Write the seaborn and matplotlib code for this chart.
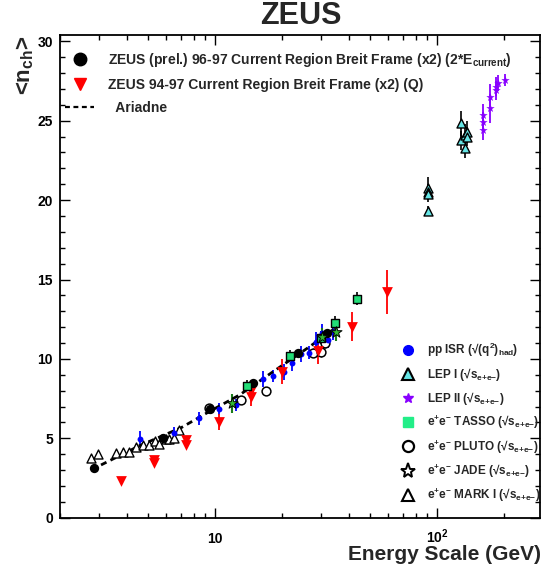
import numpy as np
import pandas as pd
import matplotlib
matplotlib.use("Agg")
import matplotlib.pyplot as plt
import seaborn as sns
from matplotlib.lines import Line2D
from matplotlib.ticker import FixedLocator, FixedFormatter, NullFormatter, LogLocator, MultipleLocator

# ---------------- data ----------------
zeus_prel_x = [2.86, 5.80, 9.52, 14.8, 23.6, 32.0]
zeus_prel_y = [3.11, 5.04, 6.85, 8.50, 10.35, 11.61]
zeus_prel_err = [0.08, 0.08, 0.1, 0.1, 0.12, 0.15]

zeus_q_x = [3.77, 5.29, 5.29, 7.40, 7.40, 10.35, 14.5, 14.5, 20.0, 29.0, 41.5, 59.3]
zeus_q_y = [2.31, 3.63, 3.42, 4.89, 4.58, 6.05, 8.0, 7.62, 9.2, 10.5, 12.03, 14.2]
zeus_q_err = [0.15, 0.15, 0.15, 0.2, 0.2, 0.5, 0.5, 0.6, 0.8, 0.85, 0.9, 1.4]

ariadne_x = [3.06, 4.56, 7.03, 9.1, 12.87, 18.2, 26.6, 35.2]
ariadne_y = [3.32, 4.53, 5.67, 6.57, 7.73, 9.19, 10.77, 12.0]

isr_x = [4.60, 6.55, 8.49, 10.45, 12.4, 16.4, 18.2, 20.5, 22.2, 24.4, 26.5, 28.5, 30.1, 32.2, 33.9]
isr_y = [4.93, 5.31, 6.26, 6.84, 7.1, 8.71, 8.92, 9.2, 9.72, 10.29, 10.39, 11.08, 11.61, 11.19, 11.71]
isr_err = [0.5, 0.4, 0.4, 0.4, 0.4, 0.5, 0.4, 0.5, 0.5, 0.5, 0.4, 0.6, 0.6, 0.5, 0.5]

lep1_x = [91.0, 91.0, 91.0, 91.0, 128.0, 128.0, 133.0, 133.0, 136.5, 136.5]
lep1_y = [20.74, 20.53, 20.4, 19.33, 24.83, 23.78, 24.1, 23.26, 24.3, 24.0]
lep1_err = [0.7, 0.5, 0.5, 0.3, 0.8, 0.6, 0.7, 0.6, 0.7, 0.6]

lep2_x = [161.0, 161.0, 161.0, 172.6, 172.6, 183.6, 183.6, 188.2, 202.0]
lep2_y = [25.36, 24.94, 24.41, 26.51, 25.78, 26.93, 27.14, 27.36, 27.56]
lep2_err = [0.7, 0.6, 0.6, 0.8, 0.9, 0.6, 0.6, 0.5, 0.4]

tasso_x = [13.9, 21.8, 29.9, 34.5, 43.6]
tasso_y = [8.31, 10.2, 11.34, 12.28, 13.8]
tasso_err = [0.35, 0.35, 0.4, 0.45, 0.4]

pluto_x = [9.33, 13.0, 16.9, 27.6, 30.0, 31.2]
pluto_y = [6.93, 7.41, 8.0, 10.39, 10.45, 10.98]
pluto_err = [0.2, 0.25, 0.25, 0.3, 0.3, 0.3]

jade_x = [11.9, 30.1, 34.9]
jade_y = [7.2, 11.36, 11.71]
jade_err = [0.6, 0.6, 0.6]

mark1_x = [2.76, 2.98, 3.56, 3.83, 4.1, 4.4, 4.71, 5.03, 5.33, 5.61, 6.0, 6.22, 6.55, 6.9]
mark1_y = [3.78, 4.01, 4.05, 4.16, 4.12, 4.47, 4.56, 4.56, 4.85, 4.62, 4.94, 4.94, 5.0, 5.52]

x_tick_vals = [10, 100]
x_tick_labels = ["10", r"$10^{2}$"]

# ---------------- style ----------------
sns.set_theme(style="ticks")
plt.rcParams["font.family"] = ["Liberation Sans", "DejaVu Sans"]
plt.rcParams["font.weight"] = "bold"
plt.rcParams["mathtext.fontset"] = "custom"
plt.rcParams["mathtext.rm"] = "Liberation Sans:bold"
plt.rcParams["mathtext.it"] = "Liberation Sans:bold"
plt.rcParams["mathtext.bf"] = "Liberation Sans:bold"
plt.rcParams["mathtext.sf"] = "Liberation Sans:bold"
plt.rcParams["mathtext.default"] = "rm"

fig = plt.figure(figsize=(5.42, 5.70), dpi=100)
ax = fig.add_axes([0.1107, 0.0918, 0.8856, 0.8468])
ax.set_xscale("log")
ax.set_xlim(2, 290)
ax.set_ylim(0, 30.4)


def df(x, y):
    return pd.DataFrame({"x": x, "y": y})


# error bars
ax.errorbar(isr_x, isr_y, yerr=isr_err, fmt="none", ecolor="#0000ff", elinewidth=1.3, zorder=2)
ax.errorbar(zeus_q_x, zeus_q_y, yerr=zeus_q_err, fmt="none", ecolor="#ff0000", elinewidth=1.3, zorder=2)
ax.errorbar(lep1_x, lep1_y, yerr=lep1_err, fmt="none", ecolor="black", elinewidth=1.2, zorder=2)
ax.errorbar(lep2_x, lep2_y, yerr=lep2_err, fmt="none", ecolor="#8800ff", elinewidth=1.3, zorder=2)
ax.errorbar(tasso_x, tasso_y, yerr=tasso_err, fmt="none", ecolor="black", elinewidth=1.2, zorder=2)
ax.errorbar(pluto_x, pluto_y, yerr=pluto_err, fmt="none", ecolor="black", elinewidth=1.0, zorder=2)
ax.errorbar(jade_x, jade_y, yerr=jade_err, fmt="none", ecolor="#1a7a1a", elinewidth=1.5, zorder=2)
ax.errorbar(zeus_prel_x, zeus_prel_y, yerr=zeus_prel_err, fmt="none", ecolor="black", elinewidth=1.0, zorder=2)

# Ariadne
sns.lineplot(data=df(ariadne_x, ariadne_y), x="x", y="y", ax=ax, color="black",
             linestyle=(0, (2.2, 1.6)), linewidth=2.0, zorder=3, legend=False)

# markers
sns.scatterplot(data=df(mark1_x, mark1_y), x="x", y="y", ax=ax, marker="^", s=42,
                facecolor="white", edgecolor="black", linewidth=1.0, zorder=4, legend=False)
sns.scatterplot(data=df(pluto_x, pluto_y), x="x", y="y", ax=ax, marker="o", s=40,
                facecolor="white", edgecolor="black", linewidth=1.1, zorder=4, legend=False)
sns.scatterplot(data=df(isr_x, isr_y), x="x", y="y", ax=ax, marker="o", s=18,
                color="#0000ff", edgecolor="#0000ff", linewidth=0, zorder=5, legend=False)
sns.scatterplot(data=df(zeus_q_x, zeus_q_y), x="x", y="y", ax=ax, marker="v", s=60,
                color="#ff0000", edgecolor="#ff0000", linewidth=0, zorder=5, legend=False)
sns.scatterplot(data=df(zeus_prel_x, zeus_prel_y), x="x", y="y", ax=ax, marker="o", s=45,
                color="black", edgecolor="black", linewidth=0, zorder=6, legend=False)
sns.scatterplot(data=df(tasso_x, tasso_y), x="x", y="y", ax=ax, marker="s", s=40,
                color="#22dd77", edgecolor="black", linewidth=1.0, zorder=6, legend=False)
sns.scatterplot(data=df(jade_x, jade_y), x="x", y="y", ax=ax, marker="*", s=70,
                color="#33bb33", edgecolor="black", linewidth=0.7, zorder=6, legend=False)
sns.scatterplot(data=df(lep1_x, lep1_y), x="x", y="y", ax=ax, marker="^", s=42,
                color="#66e6e6", edgecolor="black", linewidth=1.0, zorder=6, legend=False)
sns.scatterplot(data=df(lep2_x, lep2_y), x="x", y="y", ax=ax, marker="*", s=40,
                color="#8800ff", edgecolor="#8800ff", linewidth=0, zorder=6, legend=False)

# axes styling
ax.set_xlabel("")
ax.set_ylabel("")
for sp in ax.spines.values():
    sp.set_visible(True)
    sp.set_linewidth(1.3)
    sp.set_color("black")
ax.xaxis.set_major_locator(FixedLocator(x_tick_vals))
ax.xaxis.set_major_formatter(FixedFormatter(x_tick_labels))
ax.xaxis.set_minor_locator(LogLocator(base=10, subs=np.arange(2, 10)))
ax.xaxis.set_minor_formatter(NullFormatter())
ax.yaxis.set_major_locator(MultipleLocator(5))
ax.yaxis.set_minor_locator(MultipleLocator(1))
ax.tick_params(which="both", direction="in", top=True, right=True, colors="black", width=1.0)
ax.tick_params(which="major", length=7)
ax.tick_params(which="minor", length=3.8)
ax.tick_params(axis="y", which="major", labelsize=10, pad=5)
ax.tick_params(axis="x", which="major", labelsize=10, pad=18.0)
for lbl in ax.get_xticklabels():
    lbl.set_verticalalignment("baseline")
    lbl.set_fontweight("bold")
for lbl in ax.get_yticklabels():
    lbl.set_fontweight("bold")

# legends
h1 = [
    Line2D([], [], linestyle="none", marker="o", markersize=9, color="black"),
    Line2D([], [], linestyle="none", marker="v", markersize=9, color="#ff0000"),
    Line2D([], [], color="black", linestyle=(0, (2.2, 1.6)), linewidth=1.6),
]
l1 = [
    r"ZEUS (prel.) 96-97 Current Region Breit Frame (x2) (2*E$_{current}$)",
    "ZEUS 94-97 Current Region Breit Frame (x2) (Q)",
    "  Ariadne",
]
leg1 = ax.legend(h1, l1, loc="upper left", bbox_to_anchor=(0.0104, 0.967), frameon=False,
                 prop={"size": 10, "weight": "bold"}, handlelength=2.1, handletextpad=1.0,
                 labelspacing=0.66, borderpad=0, borderaxespad=0)
ax.add_artist(leg1)

h2 = [
    Line2D([], [], linestyle="none", marker="o", markersize=7, color="#0000ff"),
    Line2D([], [], linestyle="none", marker="^", markersize=8, markerfacecolor="#66e6e6",
           markeredgecolor="black", markeredgewidth=1.5),
    Line2D([], [], linestyle="none", marker="*", markersize=7, color="#8800ff"),
    Line2D([], [], linestyle="none", marker="s", markersize=7.5, color="#22ee88"),
    Line2D([], [], linestyle="none", marker="o", markersize=8, markerfacecolor="white",
           markeredgecolor="black", markeredgewidth=1.6),
    Line2D([], [], linestyle="none", marker="*", markersize=11, markerfacecolor="white",
           markeredgecolor="black", markeredgewidth=1.4),
    Line2D([], [], linestyle="none", marker="^", markersize=8, markerfacecolor="white",
           markeredgecolor="black", markeredgewidth=1.5),
]
l2 = [
    r"pp ISR (√(q$^{2}$)$_{had}$)",
    r"LEP I (√s$_{e{+}e{-}}$)",
    r"LEP II (√s$_{e{+}e{-}}$)",
    r"e$^{+}$e$^{-}$ TASSO (√s$_{e{+}e{-}}$)",
    r"e$^{+}$e$^{-}$ PLUTO (√s$_{e{+}e{-}}$)",
    r"e$^{+}$e$^{-}$ JADE (√s$_{e{+}e{-}}$)",
    r"e$^{+}$e$^{-}$ MARK I (√s$_{e{+}e{-}}$)",
]
leg2 = ax.legend(h2, l2, loc="upper left", bbox_to_anchor=(0.7125, 0.366), frameon=False,
                 prop={"size": 8.5, "weight": "bold"}, handlelength=1.05, handletextpad=1.05,
                 labelspacing=0.58, borderpad=0, borderaxespad=0)

# titles / labels
fig.text(0.556, 0.972, "ZEUS", ha="center", va="center", fontsize=22, fontweight="bold")
fig.text(0.998, 0.028, "Energy Scale (GeV)", ha="right", va="center", fontsize=15, fontweight="bold")
fig.text(0.046, 1 - 35 / 570, r"<n$_{ch}$>", ha="center", va="top", rotation=90,
         fontsize=16, fontweight="bold")

fig.savefig("out.png", dpi=100)
